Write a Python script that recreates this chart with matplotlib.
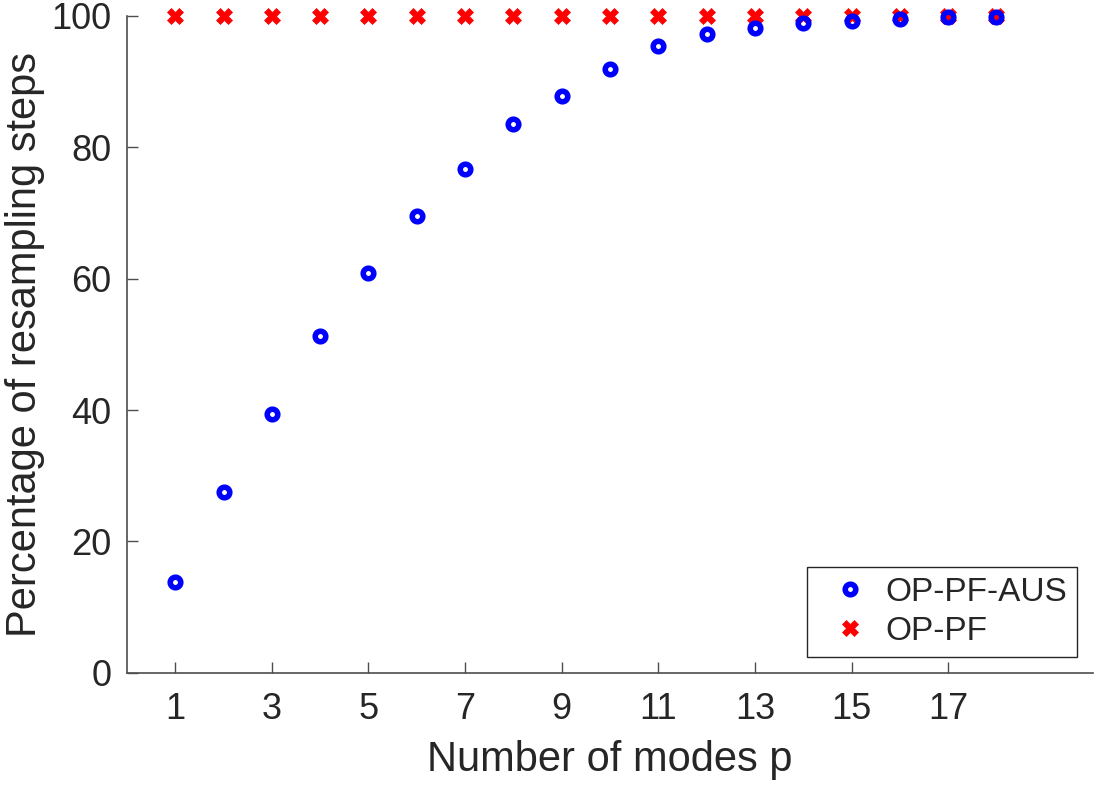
import matplotlib
matplotlib.use("Agg")
import matplotlib.pyplot as plt

# number of modes p
modes = [1, 2, 3, 4, 5, 6, 7, 8, 9, 10, 11, 12, 13, 14, 15, 16, 17, 18]
# percentage of resampling steps
aus_pct = [13.8, 27.5, 39.4, 51.3, 60.8, 69.5, 76.7, 83.6, 87.8, 91.9,
           95.4, 97.2, 98.2, 99.0, 99.3, 99.5, 99.8, 99.9]
pf_pct = [100.0] * 18
xticks = [1, 3, 5, 7, 9, 11, 13, 15, 17]
yticks = [0, 20, 40, 60, 80, 100]

plt.rcParams["font.family"] = ["Liberation Sans", "DejaVu Sans"]
txt = "#262626"

fig = plt.figure(figsize=(11.03, 7.88), dpi=100)
ax = fig.add_axes([0.1151, 0.1463, 0.8759, 0.8334])

h_pf, = ax.plot(modes, pf_pct, linestyle="none", marker="X", markersize=12,
                color="red", markeredgecolor="red", markeredgewidth=0.5,
                label="OP-PF", zorder=3, clip_on=False)
h_aus, = ax.plot(modes, aus_pct, linestyle="none", marker="o", markersize=7.6,
                 markerfacecolor="none", markeredgecolor="blue",
                 markeredgewidth=4, label="OP-PF-AUS", zorder=4, clip_on=False)

ax.set_xlim(0, 20)
ax.set_ylim(0, 100)
ax.set_xticks(xticks)
ax.set_yticks(yticks)
ax.tick_params(direction="in", length=8, width=1, colors="#4d4d4d",
               labelcolor=txt, labelsize=26, pad=11)
ax.tick_params(axis="x", pad=14)
for side in ("top", "right"):
    ax.spines[side].set_visible(False)
for side in ("left", "bottom"):
    ax.spines[side].set_color("#4d4d4d")
    ax.spines[side].set_linewidth(1.2)

ax.set_xlabel("Number of modes p", fontsize=30, color=txt, labelpad=9)
ax.set_ylabel("Percentage of resampling steps", fontsize=30, color=txt, labelpad=5)

leg = ax.legend(handles=[h_aus, h_pf], loc="lower right",
                bbox_to_anchor=(0.9764, 0.1662), bbox_transform=fig.transFigure,
                fontsize=24, frameon=True, fancybox=False, framealpha=1,
                edgecolor="#262626", borderpad=0.3, labelspacing=0.25,
                handletextpad=0.05, borderaxespad=0, handlelength=2.0)
leg.get_frame().set_linewidth(1.0)
for t in leg.get_texts():
    t.set_color(txt)

fig.savefig("out.png", dpi=100)
